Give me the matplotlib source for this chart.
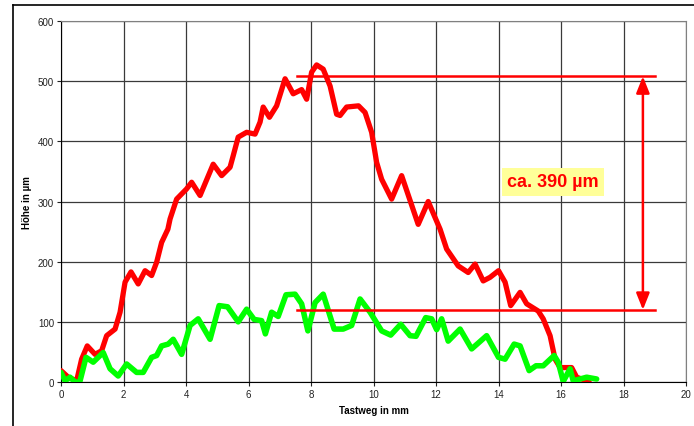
import numpy as np
import matplotlib.pyplot as plt
from matplotlib.lines import Line2D

plt.rcParams["font.family"] = ["Liberation Sans", "DejaVu Sans"]

# red profile (before)
red_x = [0.0, 0.23, 0.5, 0.66, 0.84, 1.09, 1.3, 1.46, 1.73, 1.89, 2.05, 2.24, 2.47, 2.69, 2.9,
         3.06, 3.22, 3.42, 3.49, 3.7, 4.02, 4.18, 4.45, 4.87, 5.14, 5.41, 5.51, 5.67, 5.94, 6.21,
         6.37, 6.47, 6.67, 6.9, 7.17, 7.43, 7.7, 7.86, 8.02, 8.18, 8.39, 8.61, 8.82, 8.93, 9.14,
         9.52, 9.73, 9.94, 10.1, 10.26, 10.58, 10.9, 11.43, 11.75, 12.13, 12.34, 12.71, 13.03,
         13.25, 13.51, 13.73, 14.0, 14.21, 14.39, 14.69, 14.9, 15.27, 15.43, 15.65, 15.81, 15.97,
         16.34, 16.5, 16.82, 16.9]
red_y = [19, 8, 2, 38, 60, 46, 52, 77, 88, 116, 166, 183, 163, 185, 177,
         199, 232, 254, 271, 304, 321, 332, 310, 362, 343, 357, 376, 407, 415, 412,
         432, 457, 440, 459, 504, 479, 486, 470, 515, 527, 520, 492, 445, 443, 457,
         459, 448, 415, 365, 337, 304, 343, 262, 300, 254, 221, 193, 182,
         196, 168, 174, 185, 166, 127, 149, 130, 118, 105, 77, 38, 24,
         24, 8, 2, 0]

# green profile (after)
green_x = [0.0, 0.13, 0.29, 0.45, 0.6, 0.8, 1.03, 1.35, 1.57, 1.83, 2.1, 2.42, 2.63, 2.9, 3.06,
           3.22, 3.43, 3.59, 3.86, 4.13, 4.39, 4.77, 5.06, 5.33, 5.67, 5.94, 6.18, 6.42, 6.54,
           6.74, 6.95, 7.2, 7.49, 7.7, 7.9, 8.13, 8.39, 8.74, 9.03, 9.3, 9.57, 9.89, 10.26, 10.55,
           10.87, 11.17, 11.36, 11.67, 11.86, 12.02, 12.18, 12.39, 12.77, 13.14, 13.62, 14.0, 14.21,
           14.5, 14.69, 14.98, 15.2, 15.43, 15.78, 15.91, 16.07, 16.29, 16.39, 16.61, 16.82, 17.14]
green_y = [16, 2, 8, 0, 0, 41, 33, 49, 22, 10, 30, 16, 16, 41, 44,
           60, 63, 71, 46, 94, 105, 71, 127, 125, 100, 121, 104, 102, 80,
           116, 109, 145, 146, 130, 85, 132, 146, 88, 88, 94, 138, 116, 85, 78,
           96, 77, 76, 107, 105, 87, 105, 68, 88, 55, 77, 41, 38,
           63, 60, 19, 27, 27, 44, 33, 1, 22, 2, 5, 8, 5]

# annotation
top_level = 508
bottom_level = 120
line_x = [7.55, 19.0]
arrow_x = 18.62
label = "ca. 390 µm"


def main():
    fig = plt.figure(figsize=(6.94, 4.27), dpi=100)
    ax = fig.add_axes([0.0879, 0.103, 0.9006, 0.8455])

    ax.set_xlim(0, 20)
    ax.set_ylim(0, 600)
    ax.set_xticks(np.arange(0, 21, 2))
    ax.set_yticks(np.arange(0, 601, 100))
    ax.grid(True, color="#3a3a3a", lw=0.9)
    ax.set_axisbelow(True)
    for s in ["top", "right"]:
        ax.spines[s].set_color("#808080")
    for s in ["left", "bottom"]:
        ax.spines[s].set_color("black")
    ax.tick_params(direction="out", length=3, width=0.8, labelsize=7, pad=2,
                   colors="#222222")

    ax.set_xlabel("Tastweg in mm", fontsize=7, fontweight="bold", labelpad=4)
    ax.set_ylabel("Höhe in µm", fontsize=7, fontweight="bold", labelpad=4)

    ax.plot(red_x, red_y, color="#ff0000", lw=3.8, solid_capstyle="round",
            solid_joinstyle="round", zorder=3)
    ax.plot(green_x, green_y, color="#00ff00", lw=4.0, solid_capstyle="round",
            solid_joinstyle="round", zorder=4)

    ax.plot(line_x, [top_level, top_level], color="#ff0000", lw=1.8, zorder=5)
    ax.plot(line_x, [bottom_level, bottom_level], color="#ff0000", lw=1.8, zorder=5)
    ax.annotate("", xy=(arrow_x, top_level), xytext=(arrow_x, bottom_level),
                arrowprops=dict(arrowstyle="<|-|>,head_length=1.0,head_width=0.4",
                                color="#ff0000", lw=1.8, shrinkA=0, shrinkB=0),
                zorder=5)

    ax.text(15.74, 333, label, color="#ff0000", fontsize=13, fontweight="bold",
            ha="center", va="center", zorder=6,
            bbox=dict(boxstyle="square,pad=0.3", fc="#ffff99", ec="none"))

    # outer frame of the chart object
    fig.add_artist(Line2D([12.5 / 694, 12.5 / 694], [0, 1 - 6 / 427], color="black", lw=1.2))
    fig.add_artist(Line2D([12.5 / 694, 1], [1 - 6 / 427, 1 - 6 / 427], color="black", lw=1.2))

    plt.savefig("out.png", dpi=100)


if __name__ == "__main__":
    main()
